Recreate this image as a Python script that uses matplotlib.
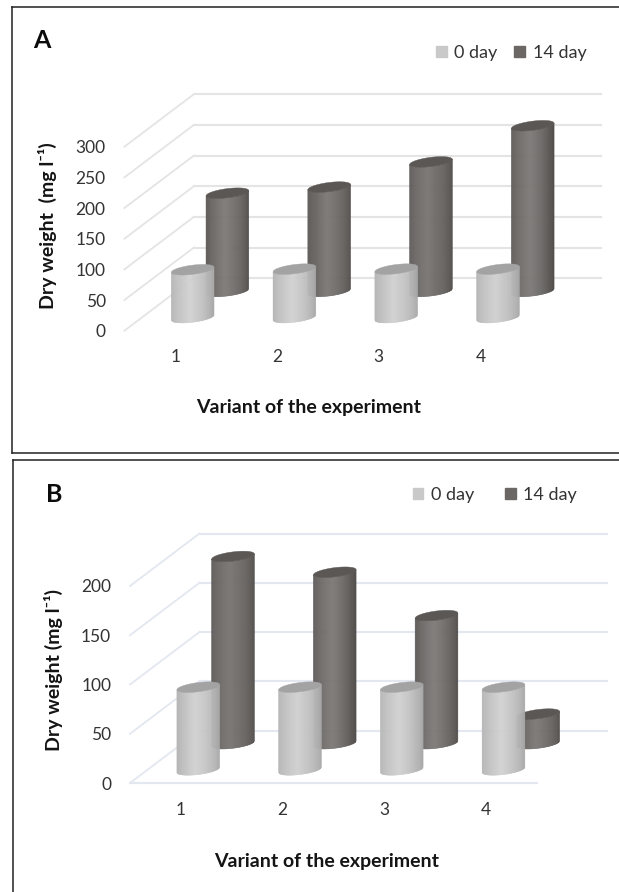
import numpy as np
import matplotlib
matplotlib.use("Agg")
import matplotlib.pyplot as plt
from matplotlib.lines import Line2D
from matplotlib.patches import Patch
from matplotlib.transforms import Affine2D

W, H = 619, 892
plt.rcParams['font.family'] = ['Lato', 'DejaVu Sans']

categories = ['1', '2', '3', '4']
series_names = ['0 day', '14 day']
a_day0 = [78, 79, 79, 79]
a_day14 = [160, 170, 211, 270]
a_ticks = [0, 50, 100, 150, 200, 250, 300]
b_day0 = [84, 84, 84, 84]
b_day14 = [190, 174, 130, 30]
b_ticks = [0, 50, 100, 150, 200]

LIGHT_EDGE, LIGHT_MID, LIGHT_TOP = '#a6a6a6', '#d2d2d2', '#a3a3a3'
DARK_EDGE, DARK_MID, DARK_TOP = '#4f4b49', '#7d7a78', '#5b5755'
SW_LIGHT, SW_DARK = '#c9c9c9', '#6b6765'
DEPTH_X, DEPTH_Y = 69.5, 52.5
TEXT = '#333333'
BOLD = '#141414'

fig = plt.figure(figsize=(W / 100, H / 100), dpi=100, facecolor='white')
px = Affine2D().scale(1 / W, -1 / H).translate(0, 1) + fig.transFigure


def hexrgb(c):
    return np.array(matplotlib.colors.to_rgb(c))


def cylinder(ax, x, value, depth, edge, mid, top, y_per_px, zorder):
    tr = ax.transData + Affine2D().translate(DEPTH_X * depth, DEPTH_Y * depth)
    x_per_px = 1 / 101.7
    rx, ry, shear = 21.3 * x_per_px, 4.6 * y_per_px, 2.6 * y_per_px
    edges = np.linspace(-1, 1, 43)
    e, m = hexrgb(edge), hexrgb(mid)
    for l, r in zip(edges[:-1], edges[1:]):
        u = np.linspace(l, r, 3)
        front = -ry * np.sqrt(np.clip(1 - u ** 2, 0, 1)) + shear * u
        xs = x + rx * u
        c = (l + r) / 2
        f = np.clip(1 - abs(c + 0.1) / 1.1, 0, 1) ** 0.65
        col = e + (m - e) * f
        ax.fill(np.r_[xs, xs[::-1]],
                np.r_[front, (value + front)[::-1]],
                color=col, lw=0.4, transform=tr, clip_on=False, zorder=zorder)
    t = np.linspace(0, 2 * np.pi, 80)
    ax.fill(x + rx * np.cos(t), value + ry * np.sin(t) + shear * np.cos(t),
            color=top, lw=0.3, transform=tr, clip_on=False, zorder=zorder + 0.1)


def panel(left, right, y0, ytop, ticks, day0, day14, grid, letter, letter_xy,
          ylabel, ylabel_xy, xlabel_xy, legend_xy, colspace, floor):
    ax = fig.add_axes([left / W, 1 - y0 / H, (right - left) / W, (y0 - ytop) / H])
    ax.patch.set_alpha(0)
    ax.set_xlim(0.5, 4.5)
    ax.set_ylim(0, ticks[-1])
    for s in ax.spines.values():
        s.set_visible(False)
    ax.set_xticks(range(1, 5), categories)
    ax.set_yticks(ticks)
    ax.tick_params(axis='both', length=0, labelsize=12.5, labelcolor=TEXT)
    ax.tick_params(axis='x', pad=13.5)
    ax.tick_params(axis='y', pad=13.5)
    back = Affine2D().translate(DEPTH_X, DEPTH_Y)
    y_per_px = ticks[-1] / (y0 - ytop)
    for v in ticks:
        ax.plot([0.5, 4.5], [v, v], color=grid, lw=1.5,
                transform=ax.transData + back, clip_on=False, zorder=1)
        a = ax.transData.transform((0.5, v))
        inv = ax.transData.inverted()
        b = inv.transform(a + np.array([DEPTH_X, DEPTH_Y]))
        ax.plot([0.5, b[0]], [v, b[1]], color=grid, lw=1.3, clip_on=False, zorder=1)
    if floor:
        ax.plot([0.5, 4.5], [0, 0], color=grid, lw=1.5, clip_on=False, zorder=1)
    for i, v in enumerate(day14):
        cylinder(ax, i + 1, v, 0.75, DARK_EDGE, DARK_MID, DARK_TOP, y_per_px, 3)
    for i, v in enumerate(day0):
        cylinder(ax, i + 1, v, 0.25, LIGHT_EDGE, LIGHT_MID, LIGHT_TOP, y_per_px, 4)

    fig.text(*letter_xy, letter, transform=px, fontsize=18, fontweight='bold',
             color='#0c0c0c', ha='center', va='center')
    fig.text(*ylabel_xy, ylabel, transform=px, fontsize=14, fontweight='bold',
             color=BOLD, rotation=90, ha='center', va='center')
    fig.text(*xlabel_xy, 'Variant of the experiment', transform=px, fontsize=14,
             fontweight='bold', color=BOLD, ha='center', va='center')
    handles = [Patch(color=SW_LIGHT, label=series_names[0]),
               Patch(color=SW_DARK, label=series_names[1])]
    fig.legend(handles=handles, loc='center left', bbox_to_anchor=legend_xy,
               bbox_transform=px, ncol=2, frameon=False, fontsize=13,
               labelcolor=TEXT, handlelength=0.6, handleheight=0.6,
               handletextpad=0.4, columnspacing=colspace, borderpad=0,
               borderaxespad=0)


panel(124.4, 531.5, 330.7, 146.7, a_ticks, a_day0, a_day14, '#e4e4e4', 'A', (42, 40),
      'Dry weight  (mg l⁻¹)', (47, 226), (309, 407), (436, 52.7), 0.95, False)
panel(130, 537, 783, 586, b_ticks, b_day0, b_day14, '#e3e7f0', 'B', (54.5, 495),
      'Dry weight (mg l⁻¹)', (53, 670), (327, 861), (412.5, 495), 1.75, True)

frame = '#222222'
for xs, ys in [([12, 12], [6.7, 453]), ([12, W], [6.7, 6.7]), ([12, W], [453, 453]),
               ([13, 13], [460, H]), ([13, W], [460, 460])]:
    fig.add_artist(Line2D(xs, ys, transform=px, color=frame, lw=1.1))

fig.savefig('out.png', dpi=100)
